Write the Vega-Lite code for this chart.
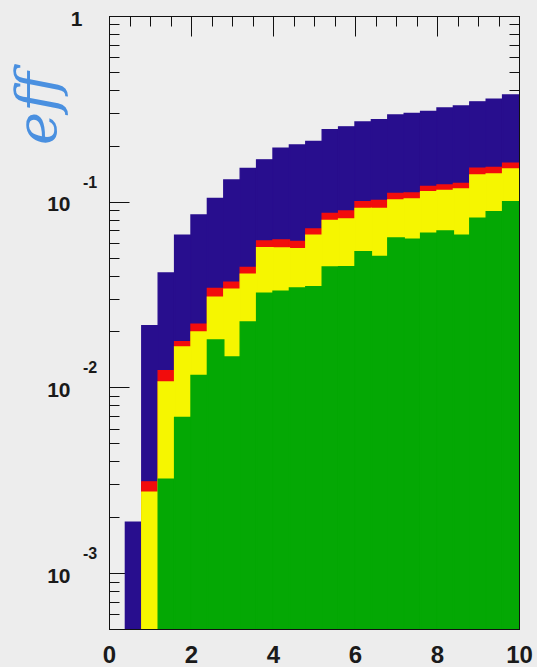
{
  "$schema": "https://vega.github.io/schema/vega-lite/v6.json",
  "width": 410,
  "height": 613,
  "autosize": {"type": "none"},
  "padding": {"left": 109, "top": 16, "right": 18, "bottom": 38},
  "background": "#ededed",
  "config": {
    "view": {"stroke": "#111111", "strokeWidth": 1, "fill": "#eeeeee"},
    "axis": {
      "grid": false,
      "domainColor": "#111111",
      "domainWidth": 1,
      "tickColor": "#111111",
      "tickWidth": 1,
      "labelColor": "#1a1a1a",
      "labelFont": "Liberation Sans",
      "labelFontWeight": "bold",
      "labelOverlap": false,
      "labelFlush": false,
      "labelBound": false
    }
  },
  "datasets": {
    "hist": [
      {"lo": 0.4, "hi": 0.8, "stage": "1", "eff": 0.00188},
      {"lo": 0.8, "hi": 1.2, "stage": "1", "eff": 0.0215},
      {"lo": 1.2, "hi": 1.6, "stage": "1", "eff": 0.0413},
      {"lo": 1.6, "hi": 2.0, "stage": "1", "eff": 0.0661},
      {"lo": 2.0, "hi": 2.4, "stage": "1", "eff": 0.0848},
      {"lo": 2.4, "hi": 2.8, "stage": "1", "eff": 0.104},
      {"lo": 2.8, "hi": 3.2, "stage": "1", "eff": 0.131},
      {"lo": 3.2, "hi": 3.6, "stage": "1", "eff": 0.151},
      {"lo": 3.6, "hi": 4.0, "stage": "1", "eff": 0.168},
      {"lo": 4.0, "hi": 4.4, "stage": "1", "eff": 0.194},
      {"lo": 4.4, "hi": 4.8, "stage": "1", "eff": 0.202},
      {"lo": 4.8, "hi": 5.2, "stage": "1", "eff": 0.211},
      {"lo": 5.2, "hi": 5.6, "stage": "1", "eff": 0.244},
      {"lo": 5.6, "hi": 6.0, "stage": "1", "eff": 0.253},
      {"lo": 6.0, "hi": 6.4, "stage": "1", "eff": 0.269},
      {"lo": 6.4, "hi": 6.8, "stage": "1", "eff": 0.276},
      {"lo": 6.8, "hi": 7.2, "stage": "1", "eff": 0.293},
      {"lo": 7.2, "hi": 7.6, "stage": "1", "eff": 0.299},
      {"lo": 7.6, "hi": 8.0, "stage": "1", "eff": 0.306},
      {"lo": 8.0, "hi": 8.4, "stage": "1", "eff": 0.320},
      {"lo": 8.4, "hi": 8.8, "stage": "1", "eff": 0.328},
      {"lo": 8.8, "hi": 9.2, "stage": "1", "eff": 0.345},
      {"lo": 9.2, "hi": 9.6, "stage": "1", "eff": 0.356},
      {"lo": 9.6, "hi": 10.0, "stage": "1", "eff": 0.376},

      {"lo": 0.8, "hi": 1.2, "stage": "2", "eff": 0.0031},
      {"lo": 1.2, "hi": 1.6, "stage": "2", "eff": 0.0123},
      {"lo": 1.6, "hi": 2.0, "stage": "2", "eff": 0.0176},
      {"lo": 2.0, "hi": 2.4, "stage": "2", "eff": 0.0219},
      {"lo": 2.4, "hi": 2.8, "stage": "2", "eff": 0.0341},
      {"lo": 2.8, "hi": 3.2, "stage": "2", "eff": 0.0369},
      {"lo": 3.2, "hi": 3.6, "stage": "2", "eff": 0.0442},
      {"lo": 3.6, "hi": 4.0, "stage": "2", "eff": 0.0614},
      {"lo": 4.0, "hi": 4.4, "stage": "2", "eff": 0.0622},
      {"lo": 4.4, "hi": 4.8, "stage": "2", "eff": 0.0610},
      {"lo": 4.8, "hi": 5.2, "stage": "2", "eff": 0.0713},
      {"lo": 5.2, "hi": 5.6, "stage": "2", "eff": 0.0864},
      {"lo": 5.6, "hi": 6.0, "stage": "2", "eff": 0.0891},
      {"lo": 6.0, "hi": 6.4, "stage": "2", "eff": 0.100},
      {"lo": 6.4, "hi": 6.8, "stage": "2", "eff": 0.1015},
      {"lo": 6.8, "hi": 7.2, "stage": "2", "eff": 0.1107},
      {"lo": 7.2, "hi": 7.6, "stage": "2", "eff": 0.1114},
      {"lo": 7.6, "hi": 8.0, "stage": "2", "eff": 0.1207},
      {"lo": 8.0, "hi": 8.4, "stage": "2", "eff": 0.123},
      {"lo": 8.4, "hi": 8.8, "stage": "2", "eff": 0.1253},
      {"lo": 8.8, "hi": 9.2, "stage": "2", "eff": 0.1514},
      {"lo": 9.2, "hi": 9.6, "stage": "2", "eff": 0.1529},
      {"lo": 9.6, "hi": 10.0, "stage": "2", "eff": 0.1611},

      {"lo": 0.8, "hi": 1.2, "stage": "3", "eff": 0.00273},
      {"lo": 1.2, "hi": 1.6, "stage": "3", "eff": 0.0107},
      {"lo": 1.6, "hi": 2.0, "stage": "3", "eff": 0.0165},
      {"lo": 2.0, "hi": 2.4, "stage": "3", "eff": 0.0199},
      {"lo": 2.4, "hi": 2.8, "stage": "3", "eff": 0.0306},
      {"lo": 2.8, "hi": 3.2, "stage": "3", "eff": 0.0338},
      {"lo": 3.2, "hi": 3.6, "stage": "3", "eff": 0.0407},
      {"lo": 3.6, "hi": 4.0, "stage": "3", "eff": 0.0566},
      {"lo": 4.0, "hi": 4.4, "stage": "3", "eff": 0.0563},
      {"lo": 4.4, "hi": 4.8, "stage": "3", "eff": 0.0559},
      {"lo": 4.8, "hi": 5.2, "stage": "3", "eff": 0.0661},
      {"lo": 5.2, "hi": 5.6, "stage": "3", "eff": 0.0792},
      {"lo": 5.6, "hi": 6.0, "stage": "3", "eff": 0.0807},
      {"lo": 6.0, "hi": 6.4, "stage": "3", "eff": 0.0921},
      {"lo": 6.4, "hi": 6.8, "stage": "3", "eff": 0.0921},
      {"lo": 6.8, "hi": 7.2, "stage": "3", "eff": 0.1021},
      {"lo": 7.2, "hi": 7.6, "stage": "3", "eff": 0.1034},
      {"lo": 7.6, "hi": 8.0, "stage": "3", "eff": 0.1132},
      {"lo": 8.0, "hi": 8.4, "stage": "3", "eff": 0.1149},
      {"lo": 8.4, "hi": 8.8, "stage": "3", "eff": 0.1171},
      {"lo": 8.8, "hi": 9.2, "stage": "3", "eff": 0.1393},
      {"lo": 9.2, "hi": 9.6, "stage": "3", "eff": 0.141},
      {"lo": 9.6, "hi": 10.0, "stage": "3", "eff": 0.1501},

      {"lo": 1.2, "hi": 1.6, "stage": "4", "eff": 0.0032},
      {"lo": 1.6, "hi": 2.0, "stage": "4", "eff": 0.00688},
      {"lo": 2.0, "hi": 2.4, "stage": "4", "eff": 0.0116},
      {"lo": 2.4, "hi": 2.8, "stage": "4", "eff": 0.018},
      {"lo": 2.8, "hi": 3.2, "stage": "4", "eff": 0.0146},
      {"lo": 3.2, "hi": 3.6, "stage": "4", "eff": 0.0225},
      {"lo": 3.6, "hi": 4.0, "stage": "4", "eff": 0.0322},
      {"lo": 4.0, "hi": 4.4, "stage": "4", "eff": 0.033},
      {"lo": 4.4, "hi": 4.8, "stage": "4", "eff": 0.0343},
      {"lo": 4.8, "hi": 5.2, "stage": "4", "eff": 0.0349},
      {"lo": 5.2, "hi": 5.6, "stage": "4", "eff": 0.0445},
      {"lo": 5.6, "hi": 6.0, "stage": "4", "eff": 0.0447},
      {"lo": 6.0, "hi": 6.4, "stage": "4", "eff": 0.0538},
      {"lo": 6.4, "hi": 6.8, "stage": "4", "eff": 0.0507},
      {"lo": 6.8, "hi": 7.2, "stage": "4", "eff": 0.0637},
      {"lo": 7.2, "hi": 7.6, "stage": "4", "eff": 0.0629},
      {"lo": 7.6, "hi": 8.0, "stage": "4", "eff": 0.0676},
      {"lo": 8.0, "hi": 8.4, "stage": "4", "eff": 0.0695},
      {"lo": 8.4, "hi": 8.8, "stage": "4", "eff": 0.0661},
      {"lo": 8.8, "hi": 9.2, "stage": "4", "eff": 0.0814},
      {"lo": 9.2, "hi": 9.6, "stage": "4", "eff": 0.0883},
      {"lo": 9.6, "hi": 10.0, "stage": "4", "eff": 0.100}
    ],
    "exponents": [
      {"v": 0.1, "exp": "-1"},
      {"v": 0.01, "exp": "-2"},
      {"v": 0.001, "exp": "-3"}
    ]
  },
  "layer": [
    {
      "data": {"name": "hist"},
      "mark": {"type": "bar", "clip": true, "strokeWidth": 1.4},
      "encoding": {
        "x": {
          "field": "lo",
          "type": "quantitative",
          "scale": {"domain": [0, 10], "nice": false, "zero": false},
          "axis": {
            "orient": "bottom",
            "title": null,
            "values": [0, 0.5, 1, 1.5, 2, 2.5, 3, 3.5, 4, 4.5, 5, 5.5, 6, 6.5, 7, 7.5, 8, 8.5, 9, 9.5, 10],
            "tickSize": {"condition": {"test": "datum.value % 2 === 0", "value": -20}, "value": -10},
            "labelExpr": "datum.value % 2 === 0 ? format(datum.value, 'd') : ''",
            "labelFontSize": 24,
            "labelBaseline": "top",
            "labelPadding": {"condition": {"test": "datum.value % 2 === 0", "value": 34}, "value": 24}
          }
        },
        "x2": {"field": "hi"},
        "y": {
          "field": "eff",
          "type": "quantitative",
          "scale": {"type": "log", "domain": [0.0005, 1], "nice": false},
          "axis": {
            "orient": "left",
            "values": [0.0005, 0.0006, 0.0007, 0.0008, 0.0009, 0.001, 0.002, 0.003, 0.004, 0.005, 0.006, 0.007, 0.008, 0.009, 0.01, 0.02, 0.03, 0.04, 0.05, 0.06, 0.07, 0.08, 0.09, 0.1, 0.2, 0.3, 0.4, 0.5, 0.6, 0.7, 0.8, 0.9, 1],
            "tickSize": {"condition": {"test": "indexof([0.001, 0.01, 0.1, 1], datum.value) >= 0", "value": -20}, "value": -10},
            "labelExpr": "datum.value == 1 ? '1' : (indexof([0.001, 0.01, 0.1], datum.value) >= 0 ? '10' : '')",
            "labelFontSize": 21,
            "labelBaseline": "middle",
            "labelPadding": {"condition": {"test": "datum.value == 1", "value": 47}, "value": 59},
            "labelOffset": 3,
            "title": "eff",
            "titleFont": "DejaVu Serif",
            "titleFontStyle": "italic",
            "titleFontWeight": "normal",
            "titleFontSize": 56,
            "titleColor": "#4a90e0",
            "titleAngle": -90,
            "titleAlign": "center",
            "titleBaseline": "middle",
            "titleX": -71,
            "titleY": 92
          }
        },
        "y2": {"datum": 0.0005},
        "color": {
          "field": "stage",
          "type": "nominal",
          "scale": {"domain": ["1", "2", "3", "4"], "range": ["#280e8e", "#f20c0c", "#f6f600", "#04a804"]},
          "legend": null
        },
        "stroke": {
          "field": "stage",
          "type": "nominal",
          "scale": {"domain": ["1", "2", "3", "4"], "range": ["#280e8e", "#f20c0c", "#f6f600", "#04a804"]},
          "legend": null
        }
      }
    },
    {
      "data": {"name": "exponents"},
      "mark": {"type": "text", "align": "left", "baseline": "middle", "dx": -26, "dy": -19, "font": "Liberation Sans", "fontWeight": "bold", "fontSize": 16, "color": "#1a1a1a"},
      "encoding": {
        "x": {
          "datum": 0,
          "type": "quantitative",
          "axis": {
            "orient": "top",
            "title": null,
            "labels": false,
            "values": [0, 0.5, 1, 1.5, 2, 2.5, 3, 3.5, 4, 4.5, 5, 5.5, 6, 6.5, 7, 7.5, 8, 8.5, 9, 9.5, 10],
            "tickSize": {"condition": {"test": "datum.value % 2 === 0", "value": -20}, "value": -10}
          }
        },
        "y": {
          "field": "v",
          "type": "quantitative",
          "axis": {
            "orient": "right",
            "title": null,
            "labels": false,
            "values": [0.0005, 0.0006, 0.0007, 0.0008, 0.0009, 0.001, 0.002, 0.003, 0.004, 0.005, 0.006, 0.007, 0.008, 0.009, 0.01, 0.02, 0.03, 0.04, 0.05, 0.06, 0.07, 0.08, 0.09, 0.1, 0.2, 0.3, 0.4, 0.5, 0.6, 0.7, 0.8, 0.9, 1],
            "tickSize": {"condition": {"test": "indexof([0.001, 0.01, 0.1, 1], datum.value) >= 0", "value": -20}, "value": -10}
          }
        },
        "text": {"field": "exp"}
      }
    }
  ]
}
